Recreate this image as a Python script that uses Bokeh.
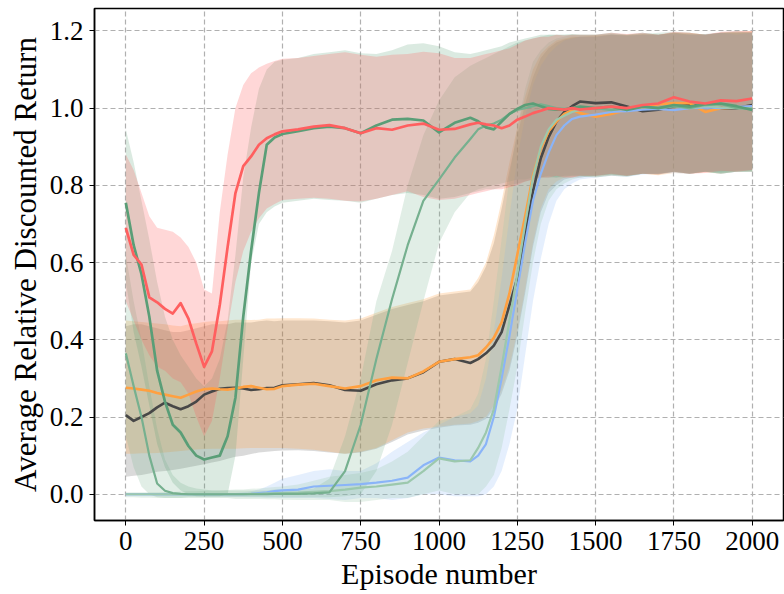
from bokeh.plotting import figure
from bokeh.models import Range1d, FixedTicker, PrintfTickFormatter
from bokeh.embed import file_html
from bokeh.resources import INLINE

episodes = [0, 25, 50, 75, 100, 125, 150, 175, 200, 225, 250, 275, 300, 325, 350, 375, 400, 425, 450, 475, 500,
            550, 600, 650, 700, 750, 800, 850, 900, 950, 1000, 1050, 1100,
            1125, 1150, 1175, 1200, 1225, 1250, 1275, 1300, 1325, 1350, 1375, 1400, 1425, 1450,
            1500, 1550, 1600, 1650, 1700, 1750, 1800, 1850, 1900, 1950, 2000]

x_ticks = [0, 250, 500, 750, 1000, 1250, 1500, 1750, 2000]
y_ticks = [0.0, 0.2, 0.4, 0.6, 0.8, 1.0, 1.2]

red_mean = [0.69, 0.62, 0.595, 0.51, 0.497, 0.48, 0.468, 0.495, 0.455, 0.39, 0.33, 0.37, 0.49, 0.64, 0.78, 0.85, 0.875, 0.905, 0.922, 0.932, 0.94,
            0.945, 0.952, 0.956, 0.948, 0.935, 0.948, 0.944, 0.955, 0.96, 0.944, 0.946, 0.958,
            0.962, 0.958, 0.955, 0.948, 0.955, 0.97, 0.978, 0.987, 0.993, 1.0, 0.998, 0.996, 1.0, 0.996,
            1.0, 1.004, 1.0, 1.008, 1.012, 1.028, 1.017, 1.012, 1.02, 1.018, 1.025]
red_lo = [0.5, 0.45, 0.4, 0.36, 0.33, 0.32, 0.3, 0.29, 0.26, 0.2, 0.15, 0.19, 0.3, 0.43, 0.55, 0.63, 0.68, 0.715, 0.74, 0.752, 0.762,
          0.765, 0.768, 0.765, 0.76, 0.758, 0.765, 0.775, 0.785, 0.77, 0.762, 0.765, 0.775,
          0.78, 0.785, 0.79, 0.79, 0.795, 0.8, 0.81, 0.815, 0.82, 0.82, 0.825, 0.82, 0.82, 0.825,
          0.825, 0.83, 0.825, 0.83, 0.828, 0.835, 0.83, 0.832, 0.838, 0.835, 0.84]
red_hi = [0.88, 0.84, 0.78, 0.72, 0.69, 0.685, 0.68, 0.665, 0.64, 0.6, 0.53, 0.52, 0.73, 0.88, 1.0, 1.06, 1.09, 1.105, 1.115, 1.122, 1.128,
          1.13, 1.135, 1.14, 1.145, 1.138, 1.133, 1.138, 1.14, 1.146, 1.142, 1.13, 1.13,
          1.135, 1.14, 1.145, 1.15, 1.155, 1.165, 1.175, 1.18, 1.185, 1.185, 1.19, 1.188, 1.19, 1.19,
          1.19, 1.195, 1.192, 1.195, 1.19, 1.198, 1.195, 1.19, 1.198, 1.2, 1.2]

green1_mean = [0.755, 0.645, 0.57, 0.46, 0.32, 0.24, 0.18, 0.16, 0.125, 0.1, 0.09, 0.095, 0.1, 0.15, 0.25, 0.46, 0.63, 0.78, 0.905, 0.924, 0.933,
               0.94, 0.948, 0.952, 0.948, 0.935, 0.955, 0.97, 0.972, 0.968, 0.937, 0.962, 0.975,
               0.966, 0.95, 0.945, 0.965, 0.985, 0.998, 1.008, 1.012, 1.005, 0.998, 0.996, 0.996, 1.0, 1.004,
               1.0, 1.004, 0.995, 1.004, 1.0, 1.008, 1.004, 1.01, 1.012, 1.005, 0.995]
green1_lo = [0.55, 0.42, 0.33, 0.23, 0.13, 0.07, 0.03, 0.01, 0.0, -0.005, -0.005, -0.005, -0.005, 0.0, 0.1, 0.35, 0.6, 0.7, 0.73, 0.745, 0.755,
             0.76, 0.765, 0.762, 0.76, 0.755, 0.765, 0.775, 0.78, 0.775, 0.765, 0.77, 0.78,
             0.785, 0.79, 0.79, 0.795, 0.8, 0.805, 0.81, 0.815, 0.82, 0.82, 0.82, 0.825, 0.825, 0.825,
             0.82, 0.825, 0.822, 0.83, 0.828, 0.835, 0.83, 0.835, 0.83, 0.835, 0.835]
green1_hi = [0.945, 0.86, 0.76, 0.66, 0.55, 0.46, 0.4, 0.36, 0.33, 0.3, 0.28, 0.3, 0.35, 0.45, 0.62, 0.82, 0.95, 1.05, 1.1, 1.12, 1.125,
             1.13, 1.14, 1.145, 1.15, 1.142, 1.14, 1.15, 1.165, 1.168, 1.16, 1.145, 1.14,
             1.145, 1.15, 1.155, 1.16, 1.17, 1.175, 1.18, 1.185, 1.19, 1.19, 1.19, 1.19, 1.192, 1.19,
             1.19, 1.192, 1.19, 1.195, 1.19, 1.195, 1.192, 1.19, 1.195, 1.195, 1.195]

green2_mean = [0.365, 0.28, 0.2, 0.1, 0.028, 0.009, 0.003, 0.001, 0.0, 0.0, 0.0, 0.0, 0.0, 0.0, 0.0, 0.0, 0.0, 0.0, 0.0, 0.001, 0.001,
               0.001, 0.002, 0.005, 0.06, 0.18, 0.35, 0.505, 0.645, 0.76, 0.815, 0.872, 0.92,
               0.945, 0.955, 0.96, 0.97, 0.985, 0.995, 1.0, 1.005, 1.01, 1.005, 1.0, 0.998, 1.0, 1.0,
               1.0, 0.995, 1.0, 1.005, 1.0, 1.005, 1.0, 1.008, 1.01, 1.0, 0.998]
green2_lo = [0.15, 0.07, 0.02, 0.0, -0.008, -0.01, -0.01, -0.01, -0.008, -0.008, -0.008, -0.008, -0.008, -0.008, -0.008, -0.008, -0.008, -0.008, -0.008, -0.008, -0.008,
             -0.008, -0.008, -0.008, -0.005, 0.0, 0.06, 0.18, 0.34, 0.5, 0.65, 0.73, 0.78,
             0.79, 0.795, 0.8, 0.805, 0.81, 0.815, 0.815, 0.82, 0.82, 0.825, 0.82, 0.82, 0.825, 0.825,
             0.825, 0.83, 0.825, 0.83, 0.83, 0.835, 0.83, 0.835, 0.832, 0.835, 0.838]
green2_hi = [0.62, 0.5, 0.4, 0.28, 0.17, 0.09, 0.05, 0.03, 0.02, 0.015, 0.012, 0.01, 0.01, 0.01, 0.01, 0.01, 0.01, 0.01, 0.01, 0.012, 0.012,
             0.012, 0.015, 0.04, 0.15, 0.3, 0.5, 0.63, 0.8, 0.93, 1.02, 1.08, 1.11,
             1.12, 1.13, 1.14, 1.15, 1.16, 1.17, 1.175, 1.18, 1.185, 1.19, 1.19, 1.19, 1.19, 1.19,
             1.19, 1.195, 1.19, 1.192, 1.195, 1.198, 1.195, 1.19, 1.195, 1.198, 1.195]

green3_mean = [0.0, 0.0, 0.0, 0.0, 0.0, 0.0, 0.0, 0.0, 0.0, 0.0, 0.0, 0.0, 0.0, 0.0, 0.0, 0.0, 0.001, 0.001, 0.002, 0.002, 0.003,
               0.004, 0.006, 0.008, 0.012, 0.017, 0.02, 0.025, 0.03, 0.06, 0.093, 0.085, 0.088,
               0.12, 0.16, 0.22, 0.33, 0.45, 0.57, 0.7, 0.82, 0.9, 0.945, 0.97, 0.98, 0.99, 0.995,
               1.0, 0.998, 1.0, 1.003, 1.0, 1.005, 1.0, 1.005, 1.002, 1.0, 1.0]
green3_lo = [-0.008, -0.008, -0.009, -0.009, -0.01, -0.01, -0.01, -0.01, -0.01, -0.01, -0.01, -0.01, -0.01, -0.01, -0.012, -0.012, -0.012, -0.012, -0.013, -0.013, -0.014,
             -0.015, -0.015, -0.015, -0.02, -0.02, -0.015, -0.01, -0.01, 0.0, 0.01, 0.0, 0.0,
             0.0, 0.02, 0.05, 0.12, 0.22, 0.33, 0.47, 0.6, 0.7, 0.76, 0.79, 0.805, 0.815, 0.82,
             0.825, 0.828, 0.825, 0.83, 0.83, 0.835, 0.832, 0.835, 0.83, 0.835, 0.835]
green3_hi = [0.005, 0.005, 0.005, 0.005, 0.005, 0.006, 0.006, 0.007, 0.008, 0.008, 0.009, 0.01, 0.01, 0.011, 0.012, 0.012, 0.014, 0.015, 0.017, 0.019, 0.02,
             0.025, 0.035, 0.045, 0.05, 0.055, 0.065, 0.085, 0.11, 0.15, 0.19, 0.2, 0.22,
             0.26, 0.35, 0.5, 0.66, 0.82, 0.95, 1.05, 1.12, 1.15, 1.17, 1.18, 1.185, 1.19, 1.19,
             1.19, 1.195, 1.19, 1.195, 1.19, 1.195, 1.195, 1.19, 1.195, 1.2, 1.195]

blue_mean = [0.0, 0.0, 0.0, 0.0, 0.0, 0.0, 0.0, 0.0, 0.0, 0.0, 0.0, 0.0, 0.0, 0.0, 0.0, 0.0, 0.001, 0.003, 0.005, 0.008, 0.01,
             0.012, 0.02, 0.022, 0.024, 0.026, 0.03, 0.035, 0.043, 0.075, 0.095, 0.088, 0.085,
             0.1, 0.13, 0.2, 0.3, 0.41, 0.53, 0.65, 0.76, 0.83, 0.885, 0.93, 0.955, 0.972, 0.978,
             0.983, 0.99, 0.992, 0.996, 0.998, 0.995, 1.0, 1.002, 1.0, 1.003, 1.005]
blue_lo = [-0.005, -0.005, -0.005, -0.005, -0.005, -0.005, -0.005, -0.005, -0.005, -0.005, -0.006, -0.006, -0.006, -0.007, -0.007, -0.007, -0.008, -0.008, -0.009, -0.009, -0.01,
           -0.01, -0.01, -0.012, -0.015, -0.01, -0.01, -0.015, -0.01, 0.0, 0.0, -0.005, -0.005,
           -0.005, 0.0, 0.02, 0.06, 0.13, 0.22, 0.36, 0.5, 0.61, 0.7, 0.76, 0.79, 0.805, 0.815,
           0.82, 0.825, 0.822, 0.828, 0.83, 0.832, 0.83, 0.835, 0.83, 0.835, 0.835]
blue_hi = [0.003, 0.003, 0.003, 0.003, 0.003, 0.003, 0.003, 0.003, 0.003, 0.003, 0.003, 0.003, 0.003, 0.003, 0.003, 0.005, 0.008, 0.012, 0.02, 0.03, 0.04,
           0.05, 0.06, 0.065, 0.06, 0.06, 0.08, 0.11, 0.135, 0.16, 0.18, 0.2, 0.21,
           0.23, 0.3, 0.42, 0.56, 0.72, 0.87, 0.98, 1.06, 1.11, 1.14, 1.16, 1.175, 1.18, 1.185,
           1.185, 1.19, 1.188, 1.19, 1.19, 1.192, 1.19, 1.19, 1.195, 1.19, 1.195]

gray_mean = [0.205, 0.19, 0.2, 0.21, 0.225, 0.237, 0.228, 0.22, 0.228, 0.24, 0.258, 0.266, 0.273, 0.275, 0.276, 0.274, 0.27, 0.272, 0.275, 0.276, 0.282,
             0.285, 0.288, 0.282, 0.27, 0.268, 0.285, 0.295, 0.3, 0.316, 0.343, 0.35, 0.34,
             0.35, 0.365, 0.385, 0.42, 0.49, 0.56, 0.67, 0.785, 0.87, 0.925, 0.965, 0.99, 1.005, 1.017,
             1.013, 1.015, 1.004, 0.992, 0.996, 1.004, 1.008, 1.004, 1.0, 1.0, 1.008]
gray_lo = [0.045, 0.048, 0.05, 0.054, 0.058, 0.06, 0.063, 0.066, 0.07, 0.074, 0.078, 0.082, 0.086, 0.092, 0.097, 0.1, 0.104, 0.108, 0.11, 0.112, 0.113,
           0.114, 0.112, 0.108, 0.105, 0.108, 0.118, 0.135, 0.155, 0.165, 0.172, 0.178, 0.18,
           0.185, 0.195, 0.22, 0.26, 0.32, 0.41, 0.52, 0.64, 0.73, 0.78, 0.8, 0.815, 0.82, 0.82,
           0.825, 0.828, 0.825, 0.83, 0.83, 0.835, 0.83, 0.835, 0.835, 0.838, 0.84]
gray_hi = [0.435, 0.44, 0.44, 0.435, 0.43, 0.425, 0.42, 0.42, 0.425, 0.43, 0.435, 0.44, 0.44, 0.44, 0.445, 0.445, 0.445, 0.448, 0.45, 0.448, 0.45,
           0.45, 0.45, 0.448, 0.445, 0.45, 0.465, 0.48, 0.49, 0.5, 0.515, 0.52, 0.525,
           0.55, 0.59, 0.65, 0.74, 0.84, 0.93, 1.01, 1.08, 1.13, 1.155, 1.17, 1.178, 1.182, 1.185,
           1.185, 1.19, 1.188, 1.19, 1.19, 1.195, 1.19, 1.192, 1.195, 1.195, 1.198]

orange_mean = [0.276, 0.274, 0.271, 0.268, 0.262, 0.258, 0.254, 0.25, 0.258, 0.266, 0.272, 0.274, 0.272, 0.271, 0.274, 0.278, 0.28, 0.276, 0.272, 0.273, 0.28,
               0.284, 0.286, 0.28, 0.274, 0.28, 0.295, 0.302, 0.3, 0.318, 0.343, 0.35, 0.355,
               0.36, 0.38, 0.405, 0.445, 0.52, 0.62, 0.72, 0.825, 0.895, 0.94, 0.965, 0.985, 0.995, 0.987,
               0.978, 0.985, 0.995, 1.0, 1.01, 1.013, 1.013, 0.99, 1.0, 1.002, 1.004]
orange_lo = [0.105, 0.105, 0.106, 0.106, 0.107, 0.108, 0.11, 0.112, 0.114, 0.116, 0.117, 0.118, 0.118, 0.118, 0.118, 0.119, 0.12, 0.12, 0.12, 0.12, 0.12,
             0.118, 0.115, 0.11, 0.105, 0.11, 0.12, 0.14, 0.16, 0.17, 0.175, 0.18, 0.183,
             0.19, 0.2, 0.23, 0.27, 0.33, 0.42, 0.53, 0.65, 0.74, 0.79, 0.81, 0.82, 0.82, 0.825,
             0.822, 0.826, 0.824, 0.83, 0.826, 0.832, 0.83, 0.834, 0.83, 0.836, 0.835]
orange_hi = [0.45, 0.448, 0.446, 0.444, 0.442, 0.44, 0.437, 0.435, 0.44, 0.443, 0.446, 0.448, 0.448, 0.45, 0.452, 0.452, 0.451, 0.452, 0.455, 0.455, 0.456,
             0.456, 0.455, 0.452, 0.45, 0.455, 0.47, 0.485, 0.495, 0.505, 0.52, 0.525, 0.53,
             0.56, 0.6, 0.67, 0.76, 0.86, 0.95, 1.03, 1.1, 1.14, 1.16, 1.175, 1.18, 1.185, 1.185,
             1.188, 1.19, 1.19, 1.192, 1.19, 1.195, 1.195, 1.19, 1.195, 1.198, 1.2]

# series: (mean, lo, hi, line colour, band alpha, line width)
series = [
    (gray_mean, gray_lo, gray_hi, "#474747", 0.2, 2.6),
    (orange_mean, orange_lo, orange_hi, "#ffa040", 0.25, 2.6),
    (blue_mean, blue_lo, blue_hi, "#8ab4f8", 0.22, 2.2),
    (green3_mean, green3_lo, green3_hi, "#9cc8ad", 0.25, 2.2),
    (green2_mean, green2_lo, green2_hi, "#76b08f", 0.22, 2.2),
    (green1_mean, green1_lo, green1_hi, "#5a9e77", 0.22, 2.7),
    (red_mean, red_lo, red_hi, "#ff5f5f", 0.25, 2.7),
]

FONT = "Liberation Serif"

p = figure(width=784, height=594, output_backend="svg", toolbar_location=None,
           x_range=Range1d(-100, 2100), y_range=Range1d(-0.068, 1.258),
           min_border_left=94, min_border_right=1, min_border_top=8, min_border_bottom=74)

p.background_fill_color = "white"
p.border_fill_color = "white"
p.outline_line_color = "black"
p.outline_line_width = 1.5
p.outline_line_alpha = 1.0

for (m, lo, hi, c, a, w) in series:
    p.varea(x=episodes, y1=lo, y2=hi, fill_color=c, fill_alpha=a)

for (m, lo, hi, c, a, w) in series:
    p.line(x=episodes, y=m, line_color=c, line_width=w, line_join="round")

p.xaxis.ticker = FixedTicker(ticks=x_ticks)
p.yaxis.ticker = FixedTicker(ticks=y_ticks)
p.yaxis.formatter = PrintfTickFormatter(format="%.1f")

for ax in (p.xaxis[0], p.yaxis[0]):
    ax.axis_line_color = "black"
    ax.axis_line_width = 1.5
    ax.major_tick_line_color = "black"
    ax.major_tick_line_width = 1
    ax.major_tick_out = 5
    ax.major_tick_in = 0
    ax.minor_tick_line_color = None
    ax.major_label_text_font = FONT
    ax.major_label_text_font_size = "27px"
    ax.major_label_text_color = "black"
    ax.axis_label_text_font = FONT
    ax.axis_label_text_font_style = "normal"
    ax.axis_label_text_color = "black"
    ax.major_label_standoff = 6
    ax.axis_label_standoff = 4

p.xaxis.axis_label = "Episode number"
p.xaxis.axis_label_text_font_size = "30px"
p.yaxis.axis_label = "Average Relative Discounted Return"
p.yaxis.axis_label_text_font_size = "31px"

for g in (p.xgrid[0], p.ygrid[0]):
    g.grid_line_color = "#b0b0b0"
    g.grid_line_width = 1.2
    g.grid_line_dash = "5 3"

open("out.html", "w").write(file_html(p, INLINE))
